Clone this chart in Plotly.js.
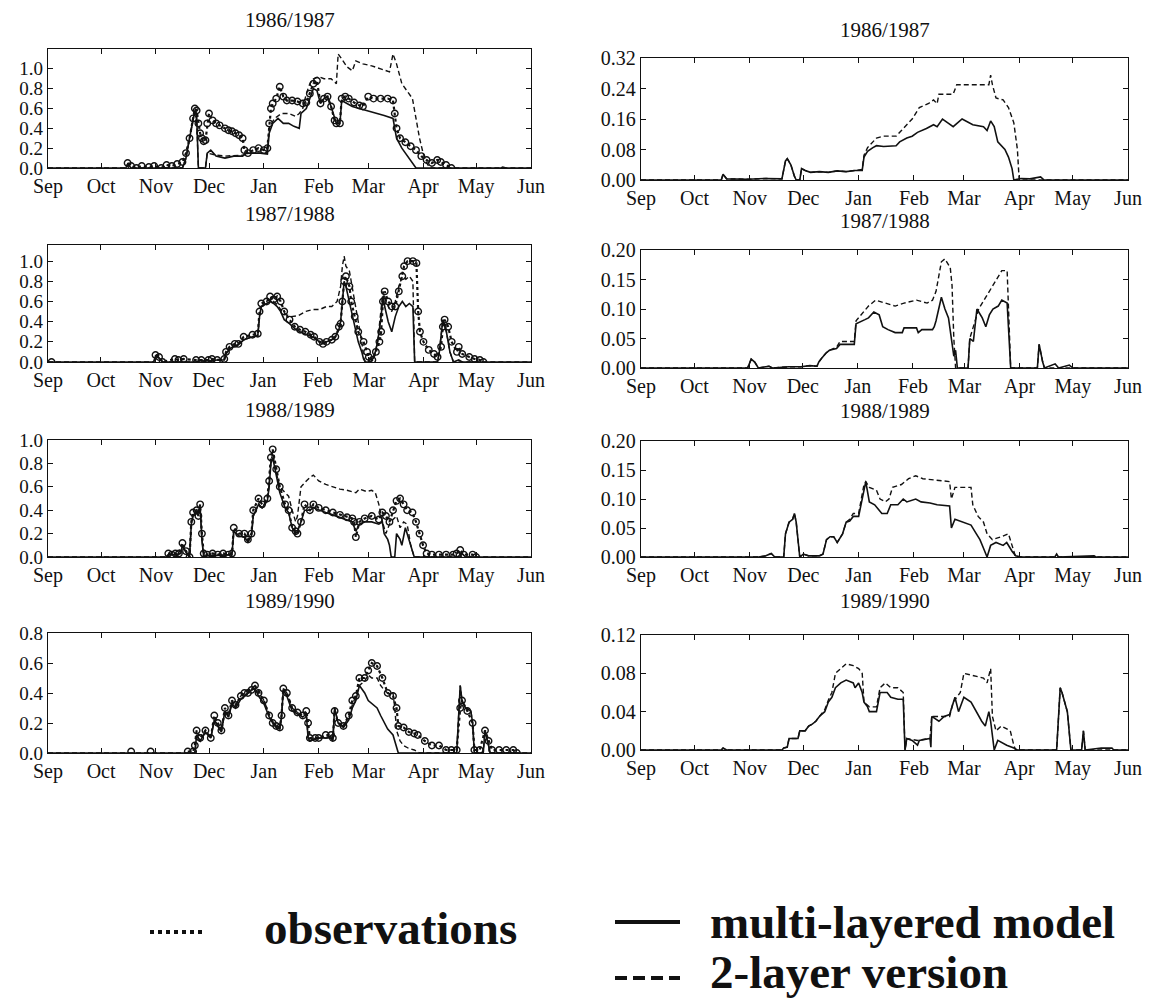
<!DOCTYPE html>
<html>
<head>
<meta charset="utf-8">
<script src="https://cdn.plot.ly/plotly-3.0.1.min.js"></script>
<style>
  html, body { margin: 0; padding: 0; background: #fff; }
  #chart { width: 1151px; height: 1003px; }
</style>
</head>
<body>
<div id="chart"></div>
<script>
// Snow depth (left, m) and water equivalent (right, m) for four winters.
// Each series is a list of [day since 1 September, value]; null marks a gap.
const seasons = ['1986/1987', '1987/1988', '1988/1989', '1989/1990'];
const startYears = [1986, 1987, 1988, 1989];

// ---- 1986/1987 ----
const depthObs86 = [[45,0.05],[47,0.02],[50,0.00],[53,0.02],[57,0.01],[60,0.02],[64,0.00],[67,0.03],[70,0.02],[73,0.04],[76,0.06],[78,0.15],[80,0.30],[82,0.50],[83,0.60],[84,0.58],[85,0.45],[86,0.35],[87,0.30],[88,0.27],[89,0.28],[90,0.45],[91,0.55],[93,0.48],[95,0.45],[97,0.43],[100,0.40],[102,0.38],[104,0.37],[106,0.35],[108,0.33],[110,0.30],[111,0.18],[113,0.15],[116,0.18],[119,0.20],[122,0.18],[124,0.20],[125,0.45],[126,0.60],[127,0.65],[129,0.70],[131,0.82],[133,0.72],[135,0.68],[138,0.68],[141,0.67],[144,0.65],[146,0.66],[148,0.75],[150,0.85],[152,0.88],[154,0.65],[156,0.70],[158,0.72],[160,0.62],[162,0.48],[163,0.45],[165,0.45],[166,0.70],[168,0.72],[170,0.70],[173,0.66],[176,0.63],[178,0.62],[181,0.72],[184,0.70],[188,0.70],[192,0.70],[195,0.68],[196,0.55],[197,0.40],[199,0.30],[202,0.26],[205,0.22],[208,0.18],[211,0.12],[214,0.08],[217,0.05],[220,0.08],[222,0.06],[225,0.03],[228,0.00]];
const depthMulti86 = [[0,0],[44,0],[45,0.04],[47,0],[76,0],[78,0.10],[80,0.30],[82,0.50],[83,0.58],[84,0.55],[85,0],[89,0],[90,0.15],[92,0.18],[95,0.12],[100,0.10],[105,0.12],[110,0.12],[112,0.15],[116,0.15],[120,0.15],[124,0.14],[125,0.35],[127,0.45],[130,0.50],[133,0.45],[136,0.45],[139,0.42],[142,0.40],[143,0.55],[146,0.60],[148,0.70],[150,0.80],[152,0.78],[154,0.65],[156,0.70],[158,0.72],[160,0.62],[162,0.50],[163,0.45],[165,0.45],[166,0.68],[168,0.66],[172,0.62],[176,0.60],[180,0.58],[185,0.56],[190,0.53],[195,0.50],[197,0.30],[200,0.20],[203,0.12],[206,0.05],[208,0],[256,0],[257,0.01],[259,0],[273,0]];
const depthTwo86 = [[0,0],[44,0],[45,0.04],[47,0],[76,0],[78,0.10],[80,0.30],[82,0.50],[83,0.58],[84,0.50],[85,0],[89,0],[90,0.15],[95,0.13],[100,0.12],[110,0.13],[115,0.15],[124,0.15],[125,0.40],[128,0.50],[132,0.55],[136,0.55],[140,0.52],[142,0.55],[144,0.60],[146,0.75],[148,0.85],[150,0.90],[153,0.92],[156,0.90],[160,0.90],[163,0.85],[164,1.15],[166,1.10],[169,1.02],[172,0.98],[174,1.08],[178,1.05],[183,1.03],[188,1.00],[193,0.97],[195,1.15],[197,1.05],[200,0.85],[203,0.78],[206,0.70],[208,0.50],[210,0.30],[212,0.15],[214,0.05],[216,0],[273,0]];
const sweMulti86 = [[0,0],[45,0],[46,0.015],[48,0.003],[60,0.002],[70,0.004],[79,0.003],[80,0.030],[81,0.050],[82,0.056],[84,0.040],[86,0.010],[87,0],[89,0],[90,0.030],[92,0.025],[95,0.020],[100,0.022],[105,0.020],[110,0.024],[115,0.022],[120,0.025],[124,0.025],[125,0.060],[127,0.075],[130,0.085],[132,0.090],[136,0.088],[140,0.090],[143,0.090],[145,0.100],[149,0.110],[152,0.115],[155,0.125],[160,0.135],[164,0.145],[166,0.140],[169,0.160],[172,0.150],[175,0.140],[180,0.160],[186,0.145],[192,0.140],[194,0.130],[196,0.155],[198,0.140],[200,0.100],[204,0.080],[206,0.060],[208,0.030],[209,0],[213,0.004],[218,0.003],[224,0.008],[226,0],[273,0]];
const sweTwo86 = [[0,0],[45,0],[46,0.015],[48,0.003],[60,0.002],[70,0.004],[79,0.003],[80,0.030],[81,0.050],[82,0.056],[84,0.040],[86,0.010],[87,0],[89,0],[90,0.030],[92,0.025],[95,0.020],[100,0.022],[105,0.020],[110,0.024],[115,0.022],[120,0.025],[124,0.028],[125,0.065],[127,0.085],[130,0.100],[132,0.110],[136,0.115],[143,0.115],[146,0.130],[149,0.145],[152,0.160],[156,0.190],[161,0.200],[164,0.210],[166,0.200],[167,0.225],[175,0.225],[177,0.250],[195,0.250],[196,0.275],[197,0.250],[199,0.215],[203,0.210],[206,0.190],[209,0.150],[211,0.080],[212,0],[273,0]];

// ---- 1987/1988 ----
const depthObs87 = [[2,0.00],[3,null],[61,0.07],[63,0.05],[65,0.00],[72,0.03],[74,0.02],[77,0.03],[84,0.02],[87,0.02],[91,0.02],[93,0.03],[96,0.02],[100,0.03],[101,0.10],[103,0.15],[106,0.18],[108,0.18],[111,0.25],[116,0.27],[119,0.28],[120,0.50],[121,0.58],[124,0.60],[126,0.65],[128,0.62],[130,0.65],[132,0.60],[134,0.50],[137,0.42],[140,0.35],[143,0.32],[146,0.30],[149,0.27],[151,0.25],[154,0.20],[156,0.18],[158,0.20],[161,0.22],[163,0.25],[165,0.35],[166,0.38],[167,0.60],[168,0.80],[169,0.85],[171,0.75],[172,0.60],[174,0.45],[176,0.30],[179,0.20],[181,0.10],[182,0.05],[184,0.02],[186,0.10],[188,0.20],[189,0.30],[190,0.60],[191,0.70],[193,0.60],[195,0.55],[197,0.55],[199,0.70],[201,0.85],[202,0.95],[204,1.00],[207,1.00],[209,0.98],[210,0.50],[211,0.30],[213,0.20],[216,0.12],[219,0.08],[221,0.05],[223,0.15],[224,0.35],[225,0.42],[227,0.35],[229,0.20],[232,0.10],[233,0.15],[235,0.08],[239,0.05],[242,0.03],[245,0.02],[247,0.00]];
const depthMulti87 = [[0,0],[60,0],[61,0.06],[63,0.04],[65,0],[84,0],[86,0.01],[92,0.01],[96,0.02],[100,0.02],[101,0.08],[103,0.13],[106,0.16],[108,0.17],[111,0.22],[116,0.25],[119,0.26],[120,0.45],[121,0.55],[124,0.58],[126,0.60],[128,0.58],[130,0.55],[132,0.50],[134,0.42],[137,0.38],[140,0.33],[143,0.30],[146,0.28],[149,0.26],[151,0.24],[154,0.20],[156,0.18],[158,0.20],[161,0.22],[163,0.25],[165,0.32],[166,0.40],[167,0.65],[168,0.80],[169,0.75],[171,0.60],[172,0.50],[174,0.35],[176,0.20],[178,0.10],[179,0.03],[180,0],[183,0],[185,0.05],[187,0.20],[189,0.45],[190,0.65],[191,0.55],[193,0.40],[195,0.30],[197,0.45],[199,0.55],[201,0.60],[203,0.55],[205,0.58],[207,0.55],[208,0],[221,0],[222,0.10],[224,0.42],[226,0.30],[228,0.10],[230,0],[233,0.02],[235,0],[274,0]];
const depthTwo87 = [[0,0],[60,0],[61,0.06],[63,0.04],[65,0],[84,0],[86,0.01],[92,0.01],[96,0.02],[100,0.02],[101,0.08],[103,0.13],[106,0.16],[108,0.17],[111,0.22],[116,0.25],[119,0.26],[120,0.45],[121,0.55],[124,0.60],[126,0.62],[128,0.60],[130,0.57],[132,0.52],[135,0.47],[138,0.45],[142,0.46],[146,0.50],[150,0.52],[154,0.52],[158,0.55],[161,0.55],[164,0.60],[166,0.75],[167,0.95],[168,1.05],[169,0.95],[171,0.90],[172,0.80],[174,0.60],[176,0.40],[178,0.20],[179,0.05],[180,0],[183,0],[185,0.05],[187,0.20],[189,0.50],[190,0.70],[191,0.65],[193,0.55],[195,0.50],[197,0.60],[199,0.75],[201,0.85],[203,0.82],[205,0.85],[207,0.80],[208,0],[221,0],[222,0.10],[224,0.42],[226,0.30],[228,0.10],[230,0],[274,0]];
const sweMulti87 = [[0,0],[60,0],[62,0.015],[64,0.010],[66,0],[72,0.003],[74,0],[83,0.002],[90,0.002],[95,0.004],[99,0.003],[100,0.010],[102,0.018],[104,0.025],[106,0.030],[110,0.033],[112,0.040],[115,0.040],[120,0.040],[121,0.075],[124,0.080],[126,0.082],[128,0.085],[131,0.095],[134,0.090],[136,0.070],[139,0.065],[143,0.060],[147,0.060],[148,0.068],[155,0.068],[156,0.060],[158,0.065],[164,0.065],[165,0.070],[166,0.080],[169,0.120],[171,0.100],[173,0.085],[175,0.040],[176,0.020],[177,0.030],[178,0],[184,0],[185,0.050],[187,0.045],[189,0.100],[192,0.085],[194,0.070],[196,0.090],[198,0.100],[201,0.105],[203,0.115],[206,0.110],[208,0],[223,0],[224,0.040],[226,0.010],[227,0],[233,0.007],[235,0],[241,0.005],[243,0],[274,0]];
const sweTwo87 = [[0,0],[60,0],[62,0.015],[64,0.010],[66,0],[72,0.003],[74,0],[83,0.002],[90,0.002],[95,0.004],[99,0.003],[100,0.010],[102,0.018],[104,0.025],[106,0.030],[110,0.035],[112,0.045],[115,0.045],[120,0.045],[121,0.080],[124,0.090],[128,0.105],[132,0.115],[137,0.110],[143,0.105],[148,0.110],[155,0.115],[161,0.110],[164,0.115],[166,0.130],[169,0.180],[171,0.185],[174,0.170],[175,0.140],[176,0.050],[177,0],[184,0],[185,0.050],[188,0.080],[190,0.100],[194,0.120],[198,0.140],[203,0.165],[206,0.165],[208,0],[223,0],[224,0.040],[226,0.010],[227,0],[274,0]];

// ---- 1988/1989 ----
const depthObs88 = [[68,0.03],[70,0.02],[72,0.03],[74,0.03],[76,0.12],[78,0.05],[80,0.00],[81,0.30],[82,0.38],[84,0.40],[85,0.35],[86,0.45],[87,0.20],[88,0.03],[90,0.02],[93,0.03],[96,0.02],[99,0.03],[102,0.02],[104,0.03],[105,0.25],[108,0.20],[111,0.20],[113,0.15],[115,0.20],[116,0.40],[119,0.50],[121,0.45],[124,0.50],[125,0.65],[126,0.85],[127,0.92],[129,0.75],[131,0.60],[134,0.45],[136,0.40],[138,0.25],[140,0.22],[141,0.20],[143,0.30],[145,0.45],[148,0.40],[150,0.45],[153,0.42],[157,0.40],[161,0.38],[165,0.36],[169,0.34],[172,0.33],[173,0.30],[174,0.17],[176,0.30],[179,0.33],[183,0.35],[187,0.32],[189,0.38],[191,0.35],[193,0.30],[195,0.40],[197,0.48],[199,0.50],[201,0.45],[203,0.40],[206,0.38],[208,0.30],[210,0.20],[212,0.10],[214,0.03],[217,0.02],[221,0.02],[225,0.02],[229,0.02],[231,0.03],[233,0.06],[235,0.02],[240,0.02],[242,0.00]];
const depthMulti88 = [[0,0],[67,0],[68,0.02],[72,0.02],[75,0.03],[76,0.10],[78,0.04],[80,0],[81,0.28],[82,0.36],[84,0.38],[86,0.42],[87,0.15],[88,0],[90,0.01],[104,0.02],[105,0.22],[108,0.18],[111,0.17],[113,0.13],[115,0.18],[116,0.35],[119,0.45],[121,0.42],[124,0.48],[125,0.60],[126,0.80],[127,0.85],[129,0.70],[131,0.55],[134,0.42],[136,0.38],[138,0.25],[140,0.20],[141,0.22],[143,0.30],[145,0.40],[148,0.40],[150,0.42],[153,0.40],[157,0.38],[161,0.36],[165,0.34],[169,0.32],[172,0.30],[174,0.22],[176,0.28],[179,0.30],[183,0.30],[187,0.28],[189,0.30],[190,0.20],[192,0.15],[193,0.10],[194,0],[196,0],[197,0.20],[199,0.15],[200,0.10],[202,0.25],[204,0.15],[205,0.10],[207,0],[233,0],[234,0.03],[236,0],[273,0]];
const depthTwo88 = [[0,0],[67,0],[68,0.02],[72,0.02],[75,0.03],[76,0.10],[78,0.04],[80,0],[81,0.28],[82,0.36],[84,0.38],[86,0.42],[87,0.15],[88,0],[90,0.01],[104,0.02],[105,0.22],[108,0.18],[111,0.17],[113,0.13],[115,0.18],[116,0.35],[119,0.45],[121,0.42],[124,0.50],[125,0.62],[126,0.82],[127,0.88],[129,0.72],[131,0.60],[134,0.55],[136,0.52],[138,0.40],[140,0.30],[141,0.35],[143,0.60],[146,0.65],[148,0.68],[150,0.70],[153,0.65],[157,0.62],[161,0.60],[165,0.58],[169,0.57],[172,0.56],[174,0.55],[176,0.58],[180,0.56],[183,0.57],[185,0.55],[187,0.45],[189,0.30],[191,0.20],[193,0.28],[195,0.32],[197,0.35],[199,0.25],[201,0.30],[203,0.28],[205,0.10],[207,0],[233,0],[234,0.03],[236,0],[273,0]];
const sweMulti88 = [[0,0],[66,0],[70,0.002],[73,0.006],[75,0],[80,0],[81,0.040],[82,0.050],[83,0.060],[85,0.065],[86,0.075],[87,0.060],[89,0],[91,0.005],[94,0.002],[100,0.002],[102,0.005],[104,0.030],[106,0.035],[108,0.035],[110,0.025],[113,0.040],[115,0.060],[117,0.062],[119,0.070],[122,0.070],[125,0.120],[126,0.130],[128,0.095],[131,0.090],[135,0.075],[138,0.075],[140,0.090],[144,0.090],[147,0.100],[149,0.095],[154,0.100],[157,0.095],[162,0.093],[166,0.090],[173,0.088],[174,0.050],[176,0.065],[181,0.060],[185,0.055],[188,0.040],[190,0.030],[192,0.015],[194,0],[196,0.020],[199,0.025],[203,0.020],[205,0.025],[208,0.010],[210,0.002],[213,0],[232,0],[233,0.005],[234,0],[254,0.002],[255,0],[273,0]];
const sweTwo88 = [[0,0],[66,0],[70,0.002],[73,0.006],[75,0],[80,0],[81,0.040],[82,0.050],[83,0.060],[85,0.065],[86,0.075],[87,0.060],[89,0],[91,0.005],[94,0.002],[100,0.002],[102,0.005],[104,0.030],[106,0.035],[108,0.035],[110,0.025],[113,0.040],[115,0.060],[117,0.065],[119,0.075],[122,0.075],[125,0.125],[126,0.130],[128,0.120],[132,0.115],[134,0.100],[137,0.095],[139,0.100],[141,0.120],[146,0.125],[150,0.135],[154,0.140],[158,0.135],[165,0.133],[173,0.130],[174,0.100],[176,0.120],[185,0.120],[186,0.090],[189,0.070],[192,0.060],[194,0.040],[197,0.030],[202,0.035],[206,0.040],[208,0.020],[210,0],[273,0]];

// ---- 1989/1990 ----
const depthObs89 = [[47,0.01],[48,null],[58,0.01],[59,null],[79,0.01],[82,0.01],[83,0.05],[84,0.15],[86,0.10],[89,0.15],[92,0.10],[94,0.25],[96,0.20],[98,0.15],[100,0.30],[102,0.25],[104,0.35],[106,0.32],[109,0.38],[111,0.40],[113,0.40],[115,0.42],[117,0.45],[119,0.40],[122,0.35],[125,0.25],[127,0.20],[129,0.18],[131,0.17],[132,0.25],[133,0.43],[135,0.40],[138,0.30],[141,0.27],[144,0.25],[146,0.28],[147,0.20],[148,0.10],[151,0.10],[153,0.10],[157,0.12],[160,0.12],[161,0.10],[162,0.28],[164,0.20],[167,0.18],[170,0.25],[172,0.35],[174,0.38],[176,0.50],[179,0.50],[181,0.55],[183,0.60],[186,0.58],[189,0.50],[192,0.40],[195,0.38],[197,0.30],[198,0.18],[201,0.17],[204,0.14],[207,0.13],[209,0.12],[213,0.08],[217,0.05],[221,0.05],[225,0.02],[228,0.02],[231,0.02],[233,0.30],[234,0.35],[237,0.28],[240,0.20],[241,0.02],[244,0.02],[247,0.15],[249,0.08],[251,0.02],[255,0.02],[259,0.02],[263,0.02],[265,0.00]];
const depthMulti89 = [[0,0],[83,0],[84,0.12],[86,0.08],[89,0.14],[92,0.10],[94,0.22],[96,0.18],[98,0.14],[100,0.28],[102,0.24],[104,0.33],[106,0.30],[109,0.36],[111,0.38],[113,0.40],[115,0.42],[117,0.43],[119,0.38],[122,0.33],[125,0.24],[127,0.20],[129,0.17],[131,0.16],[132,0.24],[133,0.42],[135,0.38],[138,0.28],[141,0.26],[144,0.24],[146,0.26],[147,0.10],[148,0.08],[153,0.10],[160,0.10],[161,0.08],[162,0.30],[164,0.20],[167,0.17],[170,0.22],[172,0.30],[174,0.35],[176,0.45],[179,0.40],[181,0.35],[183,0.33],[186,0.30],[188,0.25],[190,0.20],[192,0.16],[195,0.12],[197,0.05],[198,0],[231,0],[233,0.45],[234,0.35],[236,0.30],[239,0.28],[240,0.20],[241,0],[246,0],[247,0.15],[249,0.05],[250,0],[273,0]];
const depthTwo89 = [[0,0],[83,0],[84,0.12],[86,0.08],[89,0.14],[92,0.10],[94,0.22],[96,0.18],[98,0.14],[100,0.28],[102,0.24],[104,0.34],[106,0.32],[109,0.38],[111,0.40],[113,0.42],[115,0.43],[117,0.45],[119,0.42],[122,0.35],[125,0.26],[127,0.21],[129,0.18],[131,0.17],[132,0.25],[133,0.43],[135,0.40],[138,0.30],[141,0.27],[144,0.25],[146,0.27],[147,0.10],[148,0.09],[153,0.10],[160,0.11],[161,0.09],[162,0.30],[164,0.20],[167,0.18],[170,0.24],[172,0.32],[174,0.38],[176,0.45],[179,0.48],[181,0.52],[183,0.50],[186,0.50],[188,0.45],[190,0.42],[192,0.40],[195,0.40],[196,0.30],[197,0.15],[199,0.08],[201,0.05],[204,0.03],[207,0.02],[210,0],[231,0],[233,0.45],[234,0.35],[236,0.30],[239,0.28],[240,0.20],[241,0],[246,0],[247,0.15],[249,0.05],[250,0],[273,0]];
const sweMulti89 = [[0,0],[45,0],[46,0.002],[48,0],[79,0],[80,0.002],[82,0.003],[83,0.012],[88,0.012],[89,0.020],[92,0.020],[94,0.025],[96,0.027],[98,0.030],[100,0.035],[103,0.040],[105,0.050],[107,0.055],[109,0.065],[112,0.070],[115,0.073],[119,0.070],[120,0.065],[122,0.070],[124,0.060],[125,0.050],[127,0.045],[128,0.040],[132,0.040],[134,0.060],[138,0.060],[140,0.055],[144,0.053],[147,0.053],[148,0],[149,0.012],[152,0.010],[155,0.005],[156,0.010],[162,0.012],[162.5,0.003],[163,0.035],[167,0.030],[170,0.035],[173,0.037],[176,0.055],[178,0.040],[181,0.055],[185,0.050],[188,0.040],[191,0.030],[193,0.025],[195,0.040],[196,0.030],[198,0],[200,0.010],[205,0.005],[209,0.002],[211,0],[233,0],[235,0.065],[236,0.060],[238,0.045],[239,0.040],[241,0],[247,0],[248,0.020],[249,0],[258,0.002],[264,0.002],[265,0],[273,0]];
const sweTwo89 = [[0,0],[45,0],[46,0.002],[48,0],[79,0],[80,0.002],[82,0.003],[83,0.012],[88,0.012],[89,0.020],[92,0.020],[94,0.025],[96,0.027],[98,0.030],[100,0.035],[103,0.042],[105,0.052],[107,0.060],[109,0.080],[112,0.085],[115,0.090],[119,0.088],[122,0.085],[124,0.080],[125,0.050],[128,0.045],[132,0.045],[134,0.065],[137,0.070],[140,0.065],[144,0.065],[147,0.060],[148,0],[149,0.012],[155,0.010],[162,0.012],[163,0.035],[173,0.035],[175,0.050],[177,0.055],[179,0.060],[181,0.080],[186,0.078],[192,0.075],[194,0.070],[196,0.085],[197,0.035],[199,0.020],[202,0.025],[205,0.022],[207,0.020],[209,0.005],[210,0],[233,0],[235,0.065],[236,0.060],[238,0.045],[239,0.040],[241,0],[247,0],[248,0.020],[249,0],[273,0]];

const depthObs = [depthObs86, depthObs87, depthObs88, depthObs89];
const depthMulti = [depthMulti86, depthMulti87, depthMulti88, depthMulti89];
const depthTwo = [depthTwo86, depthTwo87, depthTwo88, depthTwo89];
const sweMulti = [sweMulti86, sweMulti87, sweMulti88, sweMulti89];
const sweTwo = [sweTwo86, sweTwo87, sweTwo88, sweTwo89];

// Axis extents and tick steps
const depthMax = [1.2, 1.16, 1.0, 0.8];
const depthTop = [1.0, 1.0, 1.0, 0.8];
const sweMax = [0.32, 0.20, 0.20, 0.12];
const sweStep = [0.08, 0.05, 0.05, 0.04];

const legendLabels = ['observations', 'multi-layered model', '2-layer version'];

// ---- page geometry (pixels) ----
const W = 1151, H = 1003;
const fx = p => p / W;
const fy = p => 1 - p / H;
const leftBox = [48, 531];
const rightBox = [641, 1128];
const leftRows = [[49, 168], [245, 362], [440, 557], [633, 753]];
const rightRows = [[58, 180], [250, 368], [441, 557], [635, 750]];
const leftTitleY = [20, 214, 410, 601];
const rightTitleY = [30, 221, 411, 601];

const FONT = 'Liberation Serif, Times New Roman, serif';
const INK = '#111';

function toDate(year, day) {
  const t = Date.UTC(year, 8, 1) + day * 86400000;
  return new Date(t).toISOString().replace('Z', '');
}
function xs(series, year) { return series.map(p => toDate(year, p[0])); }
function ys(series) { return series.map(p => p[1]); }

const traces = [];
const layout = {
  width: W, height: H,
  margin: {l: 0, r: 0, t: 0, b: 0},
  paper_bgcolor: '#fff', plot_bgcolor: '#fff',
  showlegend: false,
  font: {family: FONT, color: INK, size: 18},
  annotations: [], shapes: []
};

function addAxes(idx, year, box, row, yMax, tickvals, fmt, ySize) {
  const xName = idx === 1 ? 'xaxis' : 'xaxis' + idx;
  const yName = idx === 1 ? 'yaxis' : 'yaxis' + idx;
  const common = {
    showline: true, linecolor: INK, linewidth: 1.3, mirror: 'ticks',
    ticks: 'inside', ticklen: 5, tickwidth: 1, tickcolor: INK,
    showgrid: false, zeroline: false, fixedrange: true
  };
  layout[xName] = Object.assign({}, common, {
    type: 'date', domain: [fx(box[0]), fx(box[1])],
    anchor: idx === 1 ? 'y' : 'y' + idx,
    range: [year + '-09-01', (year + 1) + '-06-01'],
    tick0: year + '-09-01', dtick: 'M1', tickformat: '%b',
    tickfont: {family: FONT, size: 20, color: INK}
  });
  layout[yName] = Object.assign({}, common, {
    domain: [fy(row[1]), fy(row[0])],
    anchor: idx === 1 ? 'x' : 'x' + idx,
    range: [0, yMax], tickmode: 'array', tickvals: tickvals,
    ticktext: tickvals.map(v => v.toFixed(fmt)),
    tickfont: {family: FONT, size: ySize, color: INK}
  });
  return [idx === 1 ? 'x' : 'x' + idx, idx === 1 ? 'y' : 'y' + idx];
}

function steps(top, step) {
  const out = [];
  for (let k = 0; k * step <= top + 1e-9; k++) out.push(+(k * step).toFixed(4));
  return out;
}

const solidLine = {color: INK, width: 1.6};
const dashLine = {color: INK, width: 1.4, dash: '5px,3px'};

for (let i = 0; i < 4; i++) {
  const yr = startYears[i];
  // left: depth
  const [xa, ya] = addAxes(i + 1, yr, leftBox, leftRows[i], depthMax[i], steps(depthTop[i], 0.2), 1, 19);
  traces.push({x: xs(depthTwo[i], yr), y: ys(depthTwo[i]), xaxis: xa, yaxis: ya, mode: 'lines', line: dashLine, name: legendLabels[2]});
  traces.push({x: xs(depthMulti[i], yr), y: ys(depthMulti[i]), xaxis: xa, yaxis: ya, mode: 'lines', line: solidLine, name: legendLabels[1]});
  traces.push({x: xs(depthObs[i], yr), y: ys(depthObs[i]), xaxis: xa, yaxis: ya, mode: 'lines+markers',
    line: {color: INK, width: 2.2, dash: 'dot'},
    marker: {symbol: 'circle-open', size: 6.5, color: INK, line: {width: 1.4, color: INK}},
    name: legendLabels[0]});
  layout.annotations.push({xref: 'paper', yref: 'paper', x: fx((leftBox[0] + leftBox[1]) / 2), y: fy(leftTitleY[i]),
    text: seasons[i], showarrow: false, xanchor: 'center', yanchor: 'middle', font: {family: FONT, size: 21, color: INK}});

  // right: water equivalent
  const [xb, yb] = addAxes(i + 5, yr, rightBox, rightRows[i], sweMax[i], steps(sweMax[i], sweStep[i]), 2, 20);
  traces.push({x: xs(sweTwo[i], yr), y: ys(sweTwo[i]), xaxis: xb, yaxis: yb, mode: 'lines', line: dashLine, name: legendLabels[2]});
  traces.push({x: xs(sweMulti[i], yr), y: ys(sweMulti[i]), xaxis: xb, yaxis: yb, mode: 'lines', line: solidLine, name: legendLabels[1]});
  layout.annotations.push({xref: 'paper', yref: 'paper', x: fx((rightBox[0] + rightBox[1]) / 2), y: fy(rightTitleY[i]),
    text: seasons[i], showarrow: false, xanchor: 'center', yanchor: 'middle', font: {family: FONT, size: 21, color: INK}});
}

// ---- key at the bottom ----
const keyFont = {family: FONT, size: 47, color: INK, weight: 'bold'};
layout.shapes.push(
  {type: 'line', xref: 'paper', yref: 'paper', x0: fx(150), x1: fx(205), y0: fy(932), y1: fy(932), line: {color: INK, width: 4, dash: 'dot'}},
  {type: 'line', xref: 'paper', yref: 'paper', x0: fx(615), x1: fx(680), y0: fy(922), y1: fy(922), line: {color: INK, width: 4}},
  {type: 'line', xref: 'paper', yref: 'paper', x0: fx(615), x1: fx(680), y0: fy(978), y1: fy(978), line: {color: INK, width: 4, dash: '12px,6px'}}
);
layout.annotations.push(
  {xref: 'paper', yref: 'paper', x: fx(262), y: fy(928), text: '<b>' + legendLabels[0] + '</b>', showarrow: false, xanchor: 'left', yanchor: 'middle', font: keyFont},
  {xref: 'paper', yref: 'paper', x: fx(708), y: fy(922), text: '<b>' + legendLabels[1] + '</b>', showarrow: false, xanchor: 'left', yanchor: 'middle', font: keyFont},
  {xref: 'paper', yref: 'paper', x: fx(708), y: fy(972), text: '<b>' + legendLabels[2] + '</b>', showarrow: false, xanchor: 'left', yanchor: 'middle', font: keyFont}
);

Plotly.newPlot('chart', traces, layout, {staticPlot: true, displayModeBar: false});
</script>
</body>
</html>
